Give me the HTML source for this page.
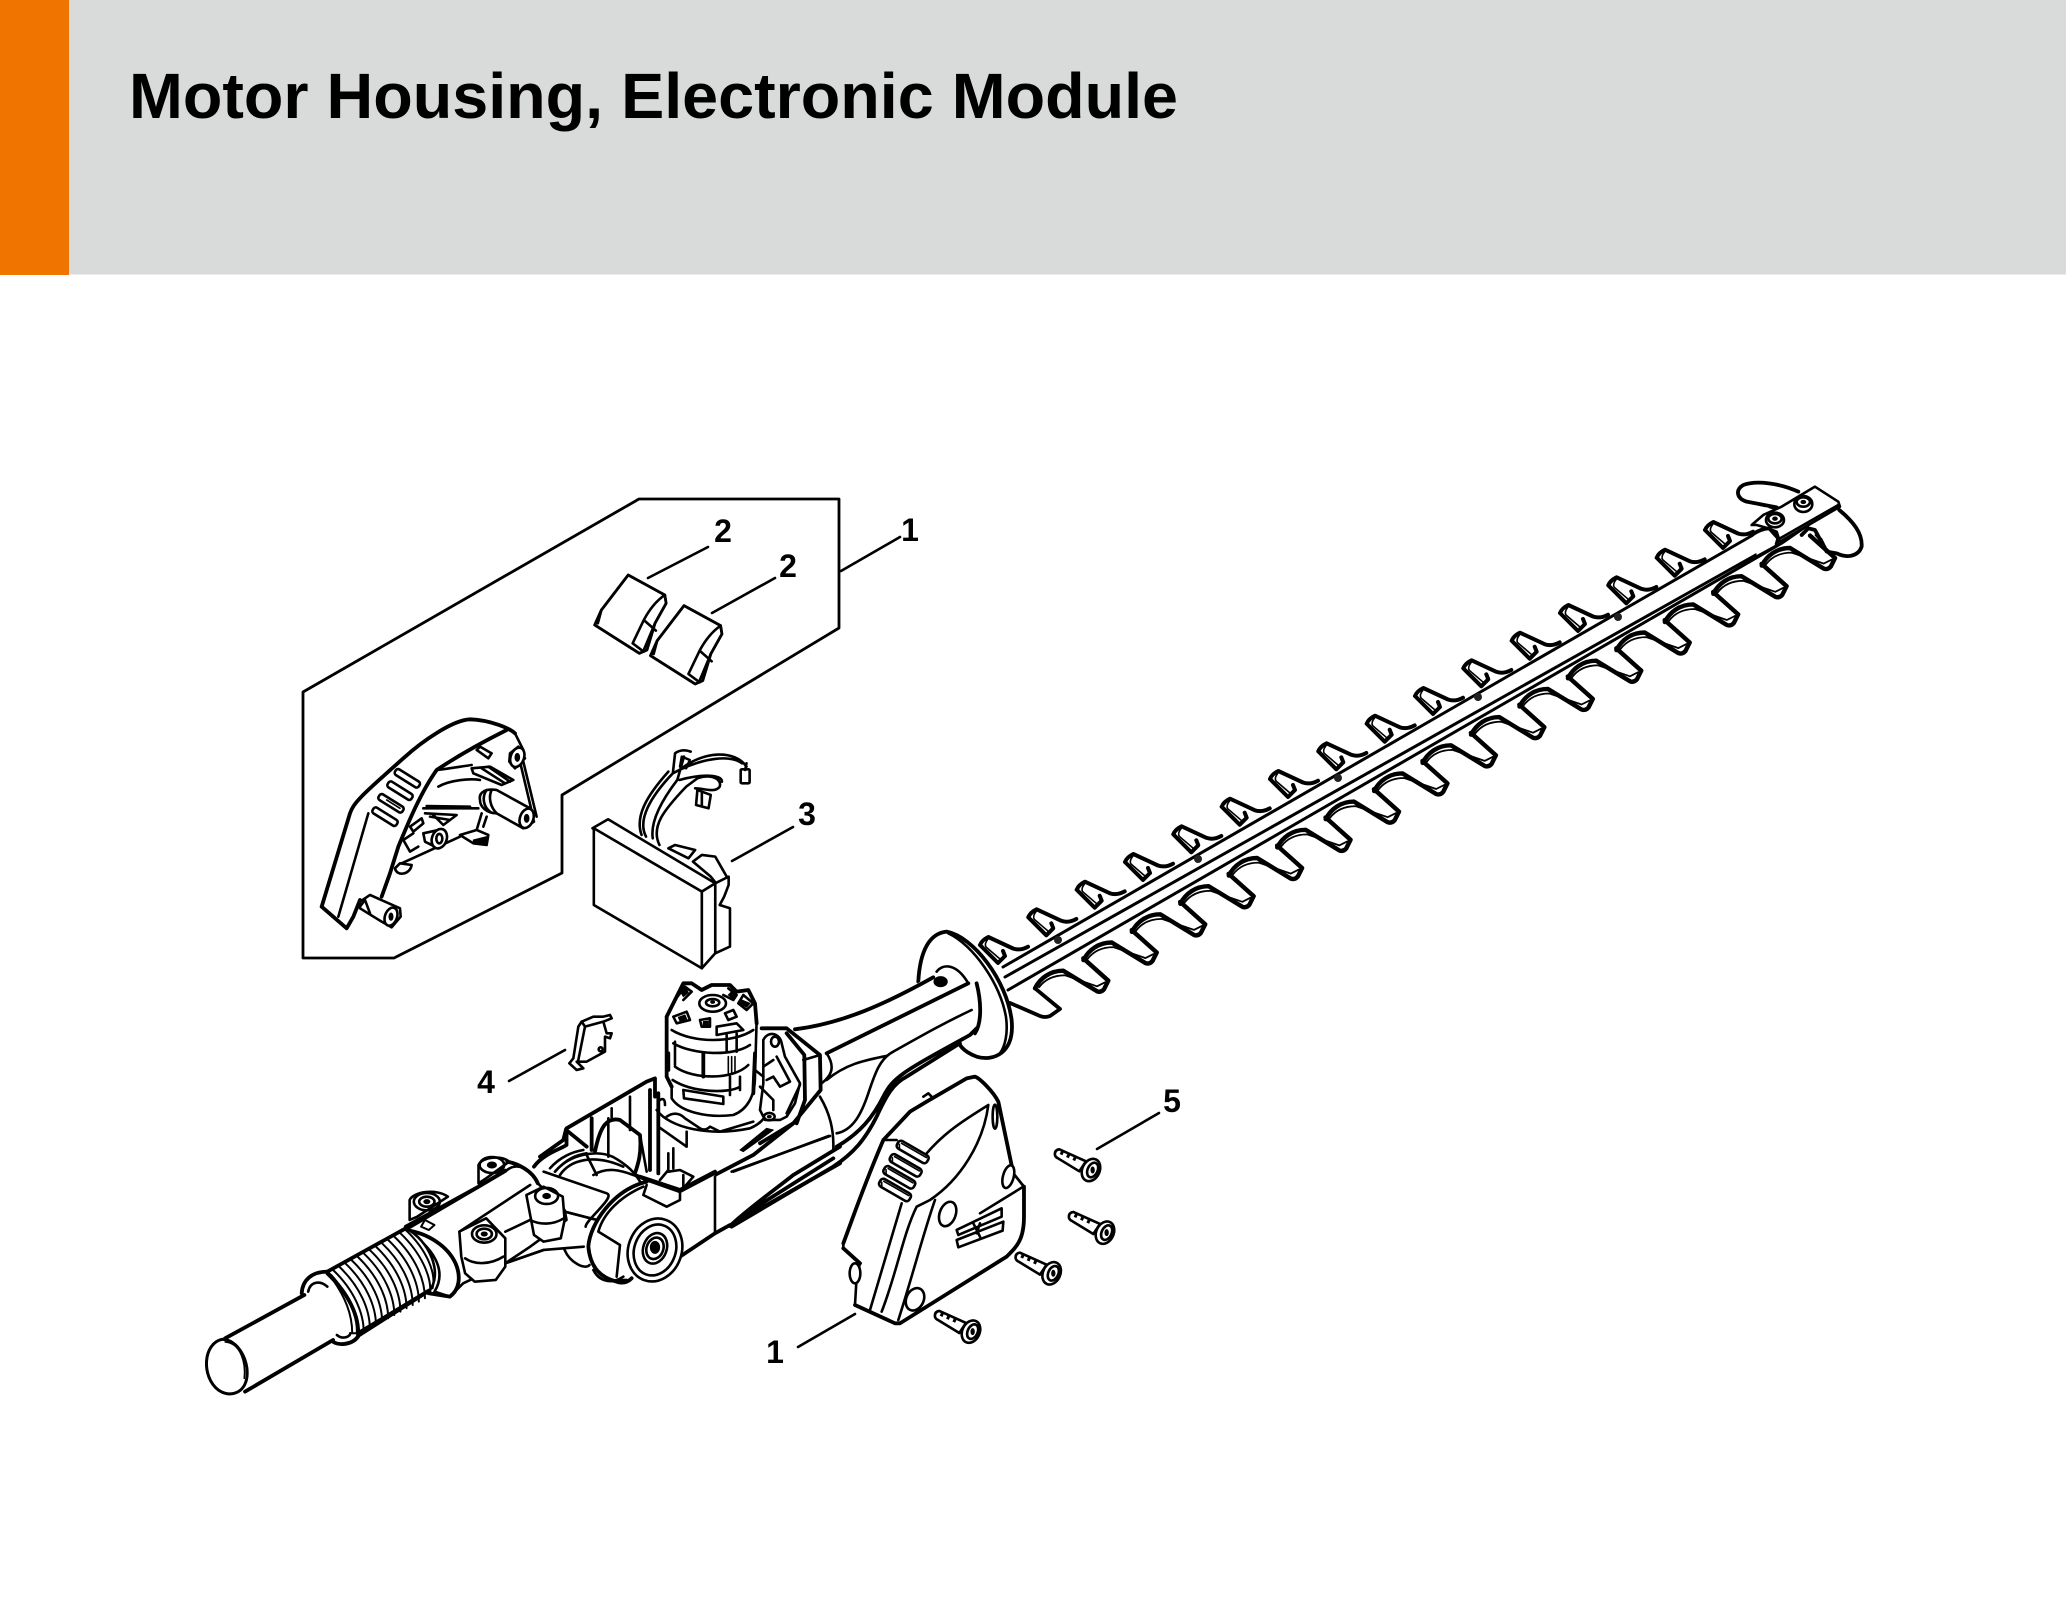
<!DOCTYPE html>
<html><head><meta charset="utf-8"><title>Motor Housing, Electronic Module</title>
<style>
html,body{margin:0;padding:0;background:#fff;width:2066px;height:1612px;overflow:hidden}
svg{display:block}
path,line,ellipse,polygon,polyline,rect,circle{vector-effect:non-scaling-stroke;stroke-linecap:round;stroke-linejoin:round}
.o{fill:none;stroke:#000;stroke-width:2.6}
.w{fill:#fff;stroke:#000;stroke-width:2.6}
.t{fill:none;stroke:#000;stroke-width:1.6}
.h{fill:none;stroke:#000;stroke-width:3.8}
.k{fill:#000;stroke:#000;stroke-width:1}
.lb{font-family:"Liberation Sans",sans-serif;font-weight:bold;font-size:32px;fill:#000;text-anchor:middle}
</style></head><body>
<svg width="2066" height="1612" viewBox="0 0 2066 1612" xmlns="http://www.w3.org/2000/svg">
<defs>
<g id="lt">
<path class="h" style="stroke-width:4.4" d="M0,0 C5,-10 15,-17.6 28.3,-17.6 L62,3 Q66,4.500 69,1 L73.3,-7.6 L48.3,-30"/>
<path class="o" style="stroke-width:1.8" d="M4,-1 C10,-9 19,-13 30,-13 L62,-2 L70,-6"/>
</g>
<g id="ut">
<path class="h" style="stroke-width:4" d="M0,0 Q2,-5 8.3,-8 L33,3.5 Q40,6 48,1.7 M0,0 L18,18 L25,11 L23,6"/>
<path class="t" d="M8,-6 Q4,-1 6,2 L20,14"/>
</g>
<g id="screw">
<path class="w" d="M8,-12 Q-7,-10 -5,6 Q-3,12 4,15 L68,54 L88,24z"/>
<path class="h" style="stroke-width:4.500;stroke-linecap:butt" stroke-dasharray="3 4" d="M12,-4 L62,19"/>
<ellipse class="w" cx="103" cy="50" rx="26" ry="35" transform="rotate(25 103 50)"/>
<ellipse class="o" cx="108" cy="50" rx="15" ry="23" transform="rotate(25 108 50)"/>
<ellipse class="k" cx="108" cy="50" rx="5" ry="9"/>
</g>
<g id="pad">
<path class="w" d="M780,285 L862,345 L865,370 L840,430 L822,510 L805,520 L705,435 L720,390z"/>
<path class="h" d="M780,285 L862,345 L865,370 L840,430 L822,510 L805,520 L705,435 L720,390z" style="stroke-width:2.800"/>
<path class="o" d="M862,345 Q835,370 815,420 L790,490 L815,515 M815,420 L842,452 M840,430 L815,510 M720,390 L712,430"/>
</g>
<g id="vent">
<rect class="w" x="-52" y="-13" width="104" height="26" rx="10"/>
<path class="t" d="M-42,-6 L44,-6 M-46,0 L-40,10"/>
</g>
<g id="gv">
<rect class="w" x="-42" y="-10" width="84" height="20" rx="8"/>
</g>
</defs>

<rect x="0" y="0" width="2066" height="274.500" fill="#d9dbda"/>
<rect x="0" y="0" width="69" height="275" fill="#f07400"/>
<text x="129" y="118" font-family="'Liberation Sans',sans-serif" font-weight="bold" font-size="64" textLength="1049" lengthAdjust="spacingAndGlyphs" fill="#000">Motor Housing, Electronic Module</text>

<!-- inset frame -->
<polygon class="o" style="stroke-width:2.8" points="639,499 839,499 839,628 562,795 562,873 394,958 303,958 303,692"/>

<!-- leaders -->
<g class="o" style="stroke-width:2.6">
<line x1="648" y1="578" x2="708" y2="547"/>
<line x1="712" y1="613" x2="775" y2="578"/>
<line x1="841" y1="571" x2="900" y2="537"/>
<line x1="732" y1="861" x2="793" y2="827"/>
<line x1="509" y1="1081" x2="565" y2="1050"/>
<line x1="1097" y1="1149" x2="1159" y2="1113"/>
<line x1="798" y1="1347" x2="855" y2="1314"/>
</g>
<text class="lb" x="723" y="542">2</text>
<text class="lb" x="788" y="577">2</text>
<text class="lb" x="910" y="541">1</text>
<text class="lb" x="807" y="825">3</text>
<text class="lb" x="486" y="1093">4</text>
<text class="lb" x="1172" y="1112">5</text>
<text class="lb" x="775" y="1363">1</text>

<!-- guard (inset) -->
<g transform="translate(310,700) scale(.3333)">
<path class="w" d="M35,620 L120,340 C130,310 150,290 280,175 C340,120 430,60 480,58 C540,60 600,85 615,100 L680,350 L660,375 L560,340 L450,410 L275,490 L240,520 L215,590 L150,600 L130,650 L110,685z" style="stroke:none"/>
<path class="h" d="M35,620 L120,340 C130,310 150,290 280,175 C340,120 430,60 480,58 C540,60 600,85 615,100 M35,620 L110,685 L130,650 L150,600 M590,90 C520,125 440,170 380,210 C330,280 290,380 265,440 L240,520 L215,590"/>
<path class="o" d="M175,340 L85,650 M615,100 L640,150 M640,185 L680,350 M630,185 L668,345 M385,260 C420,240 480,235 510,240 M380,210 C420,205 450,200 485,195 M340,325 L505,325 M350,318 L480,320 M515,340 L500,390 M530,350 L520,380 M275,490 L450,410 M345,340 L440,345 L400,375 L370,345 M360,350 L420,360 M300,380 L335,355 L340,370 L310,395z M280,420 L310,400 M280,420 L300,455 L325,440"/>
<path class="o" d="M510,140 L545,160 L535,175 L500,150z"/>
<path class="o" d="M485,205 L540,200 L610,240 L575,255 L490,220z M515,205 L585,250 M535,200 L600,245"/>
<path class="w" d="M255,505 C260,530 300,525 305,495 L270,490z"/>
<use href="#gv" transform="translate(292,235) rotate(32)"/>
<use href="#gv" transform="translate(270,272) rotate(32)"/>
<use href="#gv" transform="translate(243,310) rotate(32)"/>
<use href="#gv" transform="translate(225,350) rotate(32)"/>
<path class="t" d="M250,270 L290,295 M230,300 L270,325"/>
<path class="w" d="M600,160 L625,140 L645,175 L615,205 L598,185z"/>
<ellipse class="w" cx="622" cy="172" rx="20" ry="30" transform="rotate(20 622 172)"/><ellipse class="k" cx="622" cy="172" rx="7" ry="12"/>
<path class="w" d="M510,300 C505,275 530,265 560,270 L660,325 L672,365 L640,385 L560,340 C530,340 510,320 510,300z"/>
<path class="o" d="M545,270 C535,290 540,320 560,340 M530,270 C515,290 520,320 540,335"/>
<ellipse class="w" cx="650" cy="355" rx="20" ry="30" transform="rotate(20 650 355)"/><ellipse class="k" cx="650" cy="355" rx="7" ry="12"/>
<path class="w" d="M340,400 L385,390 L410,405 L385,445 L345,425z"/>
<ellipse class="w" cx="388" cy="416" rx="22" ry="30" transform="rotate(20 388 416)"/><ellipse class="o" cx="388" cy="416" rx="9" ry="14"/>
<path class="w" d="M450,405 L500,390 L535,405 L530,435 L490,430z"/>
<path class="k" d="M490,420 L530,410 L530,435 L490,432z"/>
<path class="w" d="M150,605 L180,585 L270,625 L272,650 L245,682 L215,665 L150,625z"/>
<path class="o" d="M150,620 L165,600 L180,640"/>
<ellipse class="w" cx="243" cy="650" rx="18" ry="28" transform="rotate(20 243 650)"/><ellipse class="k" cx="243" cy="650" rx="6" ry="11"/>
</g>

<!-- pads and module -->
<g transform="translate(280,480) scale(.4464,.3333)">
<use href="#pad"/><use href="#pad" transform="translate(125,92)"/>
<path class="o" d="M820,1070 C800,1020 830,950 880,880 L885,820 Q900,805 920,815 M835,1075 C830,1030 850,970 890,900 L905,830 M850,1095 C830,1040 860,990 910,920 L935,895 C970,880 990,900 985,920 C975,940 950,925 930,925 M895,870 C950,810 1020,810 1045,860 M880,880 C950,830 1010,825 1035,850 M810,1065 C795,1010 820,950 870,875 M895,900 C950,880 990,885 990,905"/>
<rect class="w" x="1032" y="868" width="20" height="42" rx="3"/>
<path class="o" d="M1045,850 L1042,870 M935,930 L932,975 L960,985 L965,945z M945,935 L945,978"/>
<path class="k" d="M900,830 L918,840 L910,865 L896,860z" style="fill:none;stroke-width:2.4"/>
<path class="w" d="M870,1105 L885,1095 L930,1110 L915,1135 z"/>
<path class="w" d="M925,1145 L945,1125 L975,1130 L990,1165 L1005,1200 L995,1240 L965,1190z"/>
<path class="w" d="M1005,1190 L975,1210 L975,1420 L1008,1400 L1008,1285 L985,1275 L995,1250 L1005,1215z"/>
<path class="w" d="M700,1045 L735,1018 L975,1210 L945,1235z"/>
<path class="w" d="M703,1045 L945,1235 L945,1465 L703,1275z"/>
<path class="w" d="M945,1235 L975,1210 L975,1420 L945,1465z"/>
</g>

<!-- hedge blade -->
<g>
<use href="#lt" x="1035" y="988.3"/><use href="#lt" x="1083.45" y="960.1"/><use href="#lt" x="1131.9" y="931.9"/><use href="#lt" x="1180.35" y="903.8"/>
<use href="#lt" x="1228.8" y="875.6"/><use href="#lt" x="1277.25" y="847.4"/><use href="#lt" x="1325.7" y="819.2"/><use href="#lt" x="1374.15" y="791"/>
<use href="#lt" x="1422.6" y="762.9"/><use href="#lt" x="1471.05" y="734.7"/><use href="#lt" x="1519.5" y="706.5"/><use href="#lt" x="1567.95" y="678.3"/>
<use href="#lt" x="1616.4" y="650.1"/><use href="#lt" x="1664.85" y="622"/><use href="#lt" x="1713.3" y="593.8"/><use href="#lt" x="1761.75" y="565.6"/>
<use href="#ut" x="980" y="945"/><use href="#ut" x="1028.3" y="917.3"/><use href="#ut" x="1076.7" y="889.7"/><use href="#ut" x="1125" y="862"/>
<use href="#ut" x="1173.3" y="834.3"/><use href="#ut" x="1221.7" y="806.7"/><use href="#ut" x="1270" y="779"/><use href="#ut" x="1318.3" y="751.300"/>
<use href="#ut" x="1366.7" y="723.7"/><use href="#ut" x="1415" y="696"/><use href="#ut" x="1463.300" y="668.3"/><use href="#ut" x="1511.7" y="640.7"/>
<use href="#ut" x="1560" y="613"/><use href="#ut" x="1608.300" y="585.3"/><use href="#ut" x="1656.7" y="557.7"/><use href="#ut" x="1705" y="530"/>
<path class="h" d="M1010,1003 L1040,1016 Q1045,1018 1050,1016 L1060,1009 L1035,988.3"/>
<path d="M1003,967 L1753,535 L1790,530 L1837,505 L1840,515 L1782,545 L1008,990z" fill="#fff"/>
<path class="o" style="stroke-width:3" d="M1003,967 L1753,535 M1005,977 L1777,543 M1008,990 L1782,543 L1837,505"/>
</g>
<g fill="#222"><circle cx="1058" cy="940" r="4"/><circle cx="1198" cy="859" r="4"/><circle cx="1338" cy="778" r="4"/><circle cx="1478" cy="697" r="4"/><circle cx="1618" cy="617" r="4"/><circle cx="1758" cy="536" r="4"/></g>
<g transform="translate(1500,460) scale(.3333)">
<path class="h" d="M895,95 C840,70 770,60 730,75 C705,90 710,115 740,125 L830,142"/>
<path class="o" stroke-dasharray="6 5" d="M745,125 L835,148"/>
<path class="w" d="M845,140 L945,80 L1015,125 L1020,140 L840,245 L830,215 L805,205 L770,195 L755,195 L790,165z"/>
<path class="o" d="M1015,135 L840,235"/>
<path class="h" d="M1018,150 C1060,185 1088,220 1085,260 C1075,290 1040,295 1010,280 L980,275 L945,210 L925,205 L905,225"/>
<path class="k" d="M945,225 L965,235 L980,265z"/>
<path class="w" d="M760,225 Q785,205 808,205 L835,235 L830,252 L770,285z" style="stroke:none"/>
<path class="h" d="M755,225 Q785,205 808,205 L835,235 L830,252"/>
<ellipse class="w" cx="825" cy="180" rx="27" ry="22"/><ellipse class="o" cx="825" cy="176" rx="20" ry="14"/><ellipse class="k" cx="825" cy="176" rx="7" ry="5"/>
<ellipse class="w" cx="910" cy="132" rx="27" ry="24"/><ellipse class="o" cx="910" cy="126" rx="20" ry="14"/><ellipse class="k" cx="910" cy="126" rx="7" ry="5"/>
</g>

<!-- handle, flange -->
<g transform="translate(560,920) scale(.3333)">
<path class="w" d="M1075,185 C1080,90 1110,40 1160,35 C1240,50 1340,180 1355,300 C1365,400 1300,425 1250,410 C1210,395 1190,370 1200,360 L1075,185z"/>
<path class="h" d="M1075,185 C1080,90 1110,40 1160,35 C1240,50 1340,180 1355,300 C1365,400 1300,425 1250,410 C1210,395 1190,370 1200,360"/>
<path class="o" d="M1165,40 C1240,75 1320,190 1338,290 C1345,340 1335,380 1320,400"/>
<path class="w" d="M590,325 L705,328 C850,310 980,250 1130,155 C1150,130 1190,130 1225,190 L1250,190 C1265,250 1265,310 1245,340 C1230,350 1150,400 1040,470 C1000,490 990,520 960,570 C930,630 900,660 820,720 L510,920 L370,1000 L360,1020 L0,1020 L0,700 L260,490z" style="stroke:none"/>
<path class="h" d="M705,328 C850,310 980,250 1120,172 M1225,190 L800,400 M1250,190 C1265,250 1265,310 1245,340"/>
<path class="o" d="M1130,155 C1150,130 1190,130 1225,190 M800,480 C860,430 920,420 978,408 M785,490 C810,470 830,445 800,400 M1235,270 C1150,310 1080,350 1000,395 C960,415 945,460 925,520 C905,580 880,630 830,640"/>
<path class="h" d="M830,680 C900,640 940,590 970,530 C1000,470 1030,455 1230,345 L1250,325 M515,920 L820,740 C880,700 915,660 950,590 C980,525 1000,490 1040,470 L1200,370"/>
<path class="o" d="M806,648 L520,755 M780,530 C810,580 822,630 820,690"/>
<ellipse class="k" cx="1142" cy="185" rx="20" ry="15"/>
</g>

<!-- tray and hub (origin 540,1060) -->
<g transform="translate(540,1060) scale(.3333)">
<path class="h" d="M80,205 L320,65 M78,208 L70,240 L0,290 M85,215 L140,260 M155,175 L155,270 M330,90 L330,330 M355,100 L355,340 M165,275 C180,200 200,170 240,180 L300,225 C305,280 295,310 285,340 M285,345 L420,400 L525,345 L640,285 L760,190 M300,350 L420,390 L525,335 M320,65 L345,55 L345,110"/>
<path class="o" d="M215,145 L215,172 M270,110 L270,210 M205,175 L205,290 M300,225 L320,335 M30,325 C60,290 100,275 130,270 M45,335 C80,295 110,285 140,280 M60,345 C90,300 160,280 250,320 M160,345 C200,320 240,330 280,345 M140,285 L170,345 M385,335 L420,330 L460,350 L430,385 L430,345 M360,360 L385,330 L385,280 M355,200 L440,260 L440,215 M400,265 L400,325"/>
<path class="w" d="M320,365 C220,390 150,490 145,560 C150,610 170,650 230,665 L350,665 L420,590 L525,520 L525,345 L420,400z" style="stroke:none"/>
<path class="h" d="M320,365 C220,390 150,490 145,560 C150,610 170,650 230,665 C250,672 265,665 275,655"/>
<path class="o" d="M310,380 C240,410 190,460 175,515 L240,555 L230,650 M320,375 L310,405 L380,440 L420,420 L420,400 M160,630 C180,670 220,670 250,650 M170,645 C200,675 230,660 260,660"/>
<path class="h" d="M345,660 L420,590 L525,520 L570,495"/>
<path class="o" d="M525,350 L525,520 M575,335 L870,228"/>
<path class="h" d="M570,498 C620,450 690,400 760,345 L900,260 M570,498 L900,310 M595,475 L880,295"/>
<ellipse class="w" cx="345" cy="570" rx="80" ry="96" transform="rotate(20 345 570)"/>
<ellipse class="o" cx="345" cy="570" rx="62" ry="78" transform="rotate(20 345 570)"/>
<ellipse class="o" cx="345" cy="565" rx="35" ry="47" transform="rotate(20 345 565)"/>
<ellipse class="o" cx="345" cy="565" rx="25" ry="33" transform="rotate(20 345 565)"/>
<ellipse class="k" cx="345" cy="562" rx="14" ry="18"/>
</g>

<!-- motor, bracket, switch -->
<g transform="translate(560,920) scale(.3333)">
<path class="w" d="M320,290 L320,470 L335,500 L335,535 C360,575 440,595 520,585 C560,570 585,530 585,470 L590,300 L585,250 L565,210 L530,215 L510,195 L455,195 L425,210 L395,190 L370,190 L345,240z"/>
<path class="h" d="M320,290 L345,240 L370,190 L395,190 L425,210 L455,195 L510,195 L530,215 L565,210 L585,250 L590,310 M320,290 L320,470 L335,500"/>
<path class="o" d="M345,240 L375,200 L395,215 L370,240 M505,205 L530,225 L520,240 L490,225 M550,225 L580,250 L560,270 L535,250z M340,290 L380,275 L390,300 L350,310z M420,300 L450,295 L450,320 L425,320z M470,320 L530,310 L550,330 L470,345z M495,280 L520,270 L530,290 L505,300z"/>
<path class="k" d="M360,212 L378,205 L385,218 L370,230z M515,215 L528,226 L518,235 L505,225z M355,292 L375,285 L380,297 L360,303z M430,305 L445,303 L445,317 L430,317z M545,240 L570,250 L560,262 L540,250z"/>
<ellipse class="w" cx="458" cy="250" rx="40" ry="25"/><ellipse class="o" cx="458" cy="248" rx="20" ry="11"/><ellipse class="k" cx="458" cy="246" rx="6" ry="4"/>
<path class="o" d="M335,330 C400,370 520,370 580,330 M340,370 C400,405 520,410 570,375 M345,440 C400,480 520,480 565,435 M345,365 L345,435 M500,345 L500,395 M530,340 L530,395 M338,480 C400,520 510,520 540,500 M510,470 L510,525 M540,470 L540,510"/>
<path class="h" d="M430,400 L430,470 M325,400 L325,450 M585,400 L580,520"/>
<path class="t" d="M505,410 L505,460 M515,410 L515,460 M525,410 L525,460"/>
<polygon class="o" points="370,510 490,530 490,552 372,535"/>
<path class="o" d="M290,570 C330,625 450,650 570,625 C630,600 645,540 620,500 M320,590 Q350,570 375,595 L420,625 Q435,635 450,620 L480,635 L580,605"/>
<path class="o" d="M300,540 Q315,530 315,555"/>
<path class="w" d="M610,360 C625,330 660,340 665,370 L675,410 L720,490 L705,550 L680,590 L660,600 L615,600 L600,570 L610,490z"/>
<path class="o" d="M650,410 L690,485 L660,500 L640,470 L620,480 M680,580 L720,495 M610,440 L640,420 M585,450 L610,470 M600,500 L640,540 L640,570"/>
<ellipse class="o" cx="645" cy="365" rx="12" ry="15"/>
<ellipse class="w" cx="628" cy="590" rx="16" ry="11"/><ellipse class="k" cx="628" cy="590" rx="6" ry="4"/>
<path class="h" d="M605,325 L680,325 L780,405 L782,510 L700,610 L600,670 M680,340 L733,405 L735,540 L710,610"/>
<path class="o" d="M730,420 L780,405"/>
<path class="k" d="M540,690 L620,625 L640,630 L550,695z"/>
<!-- switch -->
<path class="w" d="M65,305 L100,290 L130,290 L150,285 L155,295 L130,305 L140,340 L155,340 L150,355 L135,350 L135,395 L80,425 L50,425 L70,445 L50,450 L28,430 L40,415 L55,320z"/>
<path class="o" d="M65,305 L75,320 L55,420 M75,320 L130,305"/>
<circle class="o" cx="122" cy="388" r="6"/>
</g>

<!-- clamp, tube -->
<g transform="translate(180,1050) scale(.3827,.3333)">
<path class="h" d="M925,350 C950,310 1000,295 1010,285 L1010,240"/>
<path class="o" d="M980,365 C1020,310 1090,300 1130,320 C1170,345 1190,370 1205,400 M950,365 L1115,430 C1140,440 1060,510 1060,530 M1005,485 L1090,510 M850,640 L950,600 L1055,590 M850,545 L915,510 M1005,600 C1020,640 1060,660 1070,645"/>
<!-- bolts rear -->
<path class="w" d="M600,510 L600,450 C610,425 670,415 700,440 L620,500z"/>
<ellipse class="o" cx="645" cy="455" rx="34" ry="26"/><ellipse class="o" cx="645" cy="455" rx="20" ry="15"/><ellipse class="k" cx="645" cy="455" rx="8" ry="6"/>
<path class="w" d="M780,400 L780,345 C790,320 840,315 860,335 L800,385z"/>
<ellipse class="o" cx="815" cy="345" rx="32" ry="24"/><ellipse class="k" cx="815" cy="345" rx="12" ry="9"/>
<!-- clamp body -->
<path class="w" d="M590,540 L850,365 C880,330 920,360 935,400 L1005,480 L1010,510 L915,590 L850,640 L740,700 L705,740 L665,725 C700,660 660,590 590,540z"/>
<path class="h" d="M590,530 L780,410 L850,362 M855,335 C880,340 920,360 935,400 M590,540 C650,550 700,590 720,640 C735,680 730,720 705,740 L650,730"/>
<path class="o" d="M730,545 L915,405 M850,545 L915,510 M850,640 L950,600 M1005,485 L1090,510"/>
<path class="h" d="M640,510 L665,525 L650,540 L630,530z" style="stroke-width:2"/>
<!-- bellows -->
<path class="w" d="M385,665 L590,535 C650,570 690,670 650,725 L465,860 C470,800 440,730 385,665z"/>
<path class="h" d="M385,665 L590,535 M465,850 L650,722"/>
<path class="o" style="stroke-width:2" d="M400,660 C455,720 480,790 480,845 M416,650 C471,710 496,780 496,835 M432,640 C487,700 512,770 512,825 M448,630 C503,690 528,760 528,815 M464,620 C519,680 544,750 544,805 M480,610 C535,670 560,740 560,795 M496,600 C551,660 576,730 576,785 M512,590 C567,650 592,720 592,775 M528,580 C583,640 608,710 608,765 M544,570 C599,630 624,700 624,755 M560,560 C615,620 640,690 640,745 M576,550 C631,610 656,680 654,725 M590,540 C645,600 670,670 660,715"/>
<path class="h" d="M385,670 C440,730 470,800 465,860"/>
<path class="h" d="M318,730 C320,690 345,665 385,665 M395,870 C410,890 450,885 465,860"/>
<path class="o" d="M335,725 C340,695 365,690 385,710 M410,855 C425,870 445,860 445,850"/>
<path class="k" d="M400,690 C430,740 450,790 450,850 L462,850 C465,790 430,720 395,675z" style="fill:none;stroke-width:2"/>
<!-- front bolts -->
<path class="w" d="M730,545 L800,505 L850,565 L850,650 L825,690 L770,695 L745,670 L735,620z"/>
<path class="o" d="M745,625 C770,645 810,645 845,620"/>
<ellipse class="o" cx="795" cy="552" rx="32" ry="26"/><ellipse class="o" cx="795" cy="552" rx="20" ry="16"/><ellipse class="k" cx="795" cy="552" rx="8" ry="6"/>
<path class="w" d="M905,435 L950,410 L1000,440 L1005,510 L995,565 L950,575 L925,555z"/>
<path class="o" d="M915,510 C940,525 975,525 1003,505"/>
<ellipse class="o" cx="958" cy="438" rx="30" ry="24"/><ellipse class="k" cx="958" cy="438" rx="10" ry="8"/>
<!-- tube -->
<path class="w" d="M118,865 L325,735 L400,870 L170,1025z" style="stroke:none"/>
<path class="h" d="M118,865 L325,735 M170,1025 L400,870"/>
<path class="w" d="M110,868 C60,880 55,980 100,1020 C130,1045 170,1030 175,980 C180,930 150,868 110,868z"/>
<path class="h" d="M110,868 C60,880 55,980 100,1020 C130,1045 170,1030 175,980 C180,930 150,868 110,868z" style="stroke-width:3"/>
<path class="t" d="M118,876 C160,880 172,940 168,985"/>
</g>

<!-- cover and screws -->
<g transform="translate(820,1060) scale(.3333)">
<path class="w" d="M70,550 C100,470 130,380 190,240 L270,155 L320,125 L440,55 L465,50 C480,55 520,95 535,125 L580,340 L612,380 L612,470 C612,540 590,560 560,590 L240,790 L225,790 L105,735 L110,650 L120,610 L70,565z"/>
<path class="h" d="M70,550 C100,470 130,380 190,240 L270,155 L320,125 L440,55 L465,50 C480,55 520,95 535,125 L580,340 M612,380 L612,470 C612,540 590,560 560,590 L240,790 L225,790 L105,735 M70,565 L120,610"/>
<path class="o" d="M320,280 C380,210 450,170 505,135 C490,250 420,360 330,420 L290,440 C250,520 230,640 185,755 M245,430 L150,750 M345,420 C310,520 280,640 235,780 M480,460 L610,380 M580,340 L612,380 M190,240 L230,240"/>
<path class="o" d="M310,110 L325,100 L335,110"/>
<use href="#vent" transform="translate(278,276) rotate(30)"/>
<use href="#vent" transform="translate(257,316) rotate(30)"/>
<use href="#vent" transform="translate(238,352) rotate(30)"/>
<use href="#vent" transform="translate(225,390) rotate(30)"/>
<ellipse class="w" cx="383" cy="462" rx="24" ry="38" transform="rotate(20 383 462)"/>
<ellipse class="w" cx="285" cy="718" rx="26" ry="35" transform="rotate(25 285 718)"/>
<ellipse class="w" cx="105" cy="640" rx="16" ry="30"/>
<ellipse class="w" cx="565" cy="350" rx="16" ry="35" transform="rotate(15 565 350)"/>
<ellipse class="w" cx="525" cy="170" rx="7" ry="36"/>
<path class="o" d="M410,510 L545,445 L545,470 L415,525z M410,540 L550,485 L548,512 L415,562z M480,490 L470,520 M460,490 L480,530"/>
<use href="#screw" x="710" y="280"/>
<use href="#screw" x="752" y="468"/>
<use href="#screw" x="592" y="590"/>
<use href="#screw" x="350" y="765"/>
</g>
</svg>
</body></html>
